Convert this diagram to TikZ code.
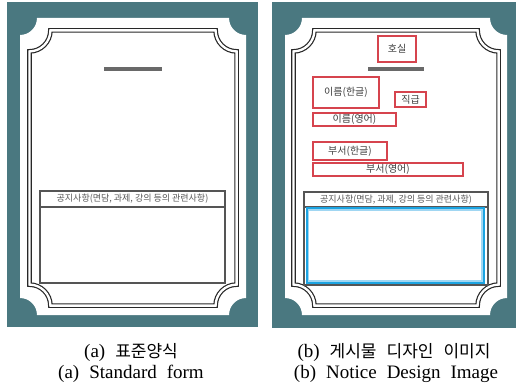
\documentclass[tikz,border=0pt]{standalone}
\usepackage{fontspec}
\setmainfont{Liberation Serif}
\newfontfamily\kr{Noto Sans CJK KR}
\definecolor{teal1}{RGB}{74,120,128}
\definecolor{redbox}{RGB}{214,68,78}
\definecolor{bluebox}{RGB}{28,164,226}
\definecolor{lightblue}{RGB}{160,214,242}
\definecolor{framecol}{RGB}{40,40,40}
\definecolor{boxcol}{RGB}{85,85,85}
\definecolor{barcol}{RGB}{105,105,105}
\newcommand\notchpath[5]{({#1+#5},#2) -- ({#3-#5},#2) arc[start angle=180,end angle=90,radius=#5] -- (#3,{#4-#5}) arc[start angle=270,end angle=180,radius=#5] -- ({#1+#5},#4) arc[start angle=0,end angle=-90,radius=#5] -- (#1,{#2+#5}) arc[start angle=90,end angle=0,radius=#5] -- cycle}
\newcommand\wgap{\hspace{10pt}}
\tikzset{
  card/.style={fill=white,draw=none},
  frame/.style={draw=framecol,line width=1.2pt,double=white,double distance=2.3pt},
  formbox/.style={draw=boxcol,line width=1.3pt},
  bar/.style={draw=barcol,line width=3.5pt},
  redlbl/.style={draw=redbox,line width=1.8pt,inner sep=0pt,font=\kr\fontsize{10}{10}\selectfont,text=black!75},
  hdr/.style={font=\kr\fontsize{9}{9}\selectfont,text=black!65,inner sep=0pt},
  captxt/.style={font=\fontsize{19}{22}\selectfont,inner sep=0pt,align=center}
}
\begin{document}
\begin{tikzpicture}[x=1pt,y=-1pt]
\useasboundingbox (0,0) rectangle (516,387);
\fill[white] (0,0) rectangle (516,387);
% left panel
\fill[teal1] (7,2) rectangle (258,327);
\fill[card] \notchpath{20}{18}{246}{315}{17};
\draw[frame] \notchpath{29.4}{30.4}{236.6}{305.6}{21};
\draw[bar] (104,69) -- (162,69);
\draw[formbox] (40,191) rectangle (225,283);
\draw[formbox] (40,207) -- (225,207);
\node[hdr] (hdrA) at (132.5,199) {공지사항(면담, 과제, 강의 등의 관련사항)};
% right panel
\fill[teal1] (272,2) rectangle (516,328);
\fill[card] \notchpath{285}{18}{507}{315}{17};
\draw[frame] \notchpath{293.4}{30.4}{498.6}{305.6}{21};
\draw[bar] (368,69) -- (424,69);
\node[redlbl,minimum width=38pt,minimum height=26pt] (room) at (397,49) {호실};
\node[redlbl,minimum width=66pt,minimum height=31pt] (namek) at (346,92.5) {이름(한글)};
\node[redlbl,minimum width=31pt,minimum height=15pt] (rank) at (410.5,99.5) {직급};
\node[redlbl,minimum width=83pt,minimum height=13pt] (namee) at (354.5,119.5) {이름(영어)};
\node[redlbl,minimum width=74pt,minimum height=18pt] (deptk) at (350,151) {부서(한글)};
\node[redlbl,minimum width=150pt,minimum height=13pt] (depte) at (388,169.5) {부서(영어)};
\draw[formbox] (304,192) rectangle (488,285);
\draw[formbox] (304,207) -- (488,207);
\draw[lightblue,line width=1.4pt] (308.2,210.2) rectangle (481.8,280.8);
\draw[bluebox,line width=2pt] (306.5,208.5) rectangle (483.5,282.5);
\node[hdr] (hdrB) at (396,199.5) {공지사항(면담, 과제, 강의 등의 관련사항)};
% captions
\node[captxt] (capA1) at (131,352) {(a)\wgap{\kr\fontsize{17}{20}\selectfont 표준양식}};
\node[captxt] (capA2) at (131,374) {(a)\wgap Standard\wgap form};
\node[captxt] (capB1) at (394,352) {(b)\wgap{\kr\fontsize{17}{20}\selectfont 게시물\wgap 디자인\wgap 이미지}};
\node[captxt] (capB2) at (396,374) {(b)\wgap Notice\wgap Design\wgap Image};
\end{tikzpicture}
\end{document}
